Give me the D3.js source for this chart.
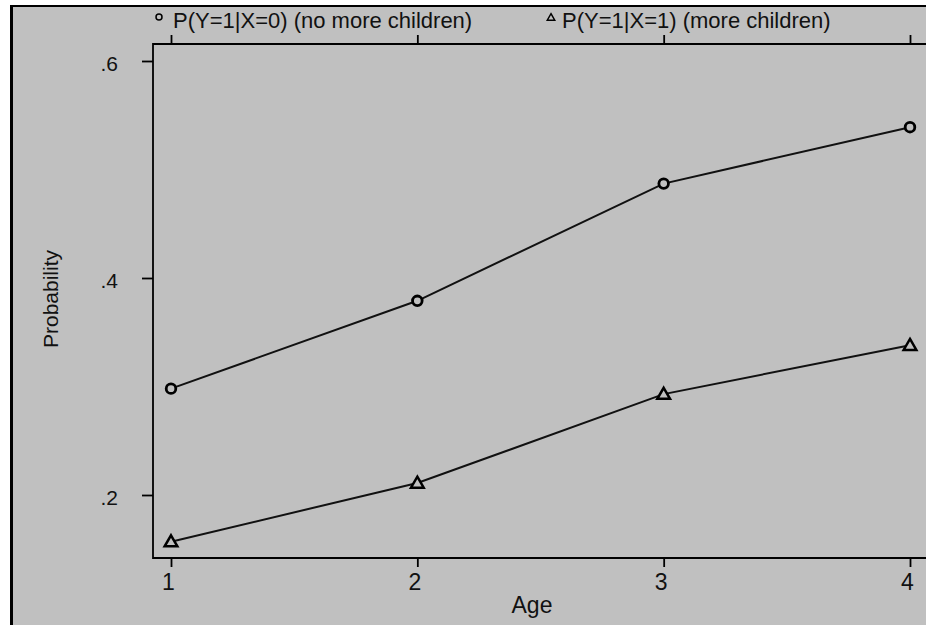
<!DOCTYPE html>
<html lang="en">
<head>
<meta charset="utf-8">
<title>Probability by age</title>
<script src="https://cdnjs.cloudflare.com/ajax/libs/d3/7.8.5/d3.min.js"></script>
<style>
  body { margin: 0; background: #fff; }
  svg { display: block; font-family: "Liberation Sans", Arial, sans-serif; }
</style>
</head>
<body>
<div id="chart"></div>
<script>
// data
var ages = [1, 2, 3, 4];
var noMore = [0.298, 0.379, 0.487, 0.539];   // P(Y=1|X=0)
var more = [0.157, 0.211, 0.293, 0.338];     // P(Y=1|X=1)
var yTicks = [0.2, 0.4, 0.6];
var seriesLabels = ["P(Y=1|X=0) (no more children)", "P(Y=1|X=1) (more children)"];

var width = 926, height = 625;
var plotLeft = 153, plotTop = 44, plotBottom = 558;

var svg = d3.select("#chart").append("svg")
    .attr("width", width)
    .attr("height", height);

// gray page with black edge on top and left
svg.append("rect")
    .attr("x", 11).attr("y", 6)
    .attr("width", width - 11).attr("height", height - 6)
    .style("fill", "#c0c0c0");
svg.append("line")
    .attr("x1", 10).attr("x2", width).attr("y1", 6).attr("y2", 6)
    .style("stroke", "#000").style("stroke-width", 2);
svg.append("line")
    .attr("x1", 11.5).attr("x2", 11.5).attr("y1", 5).attr("y2", height)
    .style("stroke", "#000").style("stroke-width", 3);

var x = d3.scaleLinear()
    .domain([1, 4])
    .range([171, 910]);
var y = d3.scaleLinear()
    .domain([0.2, 0.6])
    .range([495, 61]);

// plot frame (open on the right)
svg.append("path")
    .attr("d", "M" + width + "," + plotTop + "H" + plotLeft + "V" + plotBottom + "H" + width)
    .style("fill", "none").style("stroke", "#000").style("stroke-width", 1.8);

// y axis
var yAxis = d3.axisLeft(y)
    .tickValues(yTicks)
    .tickSize(11)
    .tickPadding(24)
    .tickFormat(function(d) { return d3.format(".1f")(d).replace(/^0/, ""); });
var gy = svg.append("g")
    .attr("transform", "translate(" + plotLeft + ",0)")
    .call(yAxis);
gy.select(".domain").remove();
gy.selectAll(".tick text").style("font-size", "21px").attr("dy", "0.45em");

// x axis bottom
var xAxis = d3.axisBottom(x)
    .tickValues(ages)
    .tickSize(9)
    .tickPadding(7)
    .tickFormat(d3.format("d"));
var gx = svg.append("g")
    .attr("transform", "translate(0," + plotBottom + ")")
    .call(xAxis);
gx.select(".domain").remove();
gx.selectAll(".tick text").style("font-size", "23px").attr("dx", "-3");

// x axis top, ticks only
var gt = svg.append("g")
    .attr("transform", "translate(0," + plotTop + ")")
    .call(d3.axisTop(x).tickValues(ages).tickSize(9).tickFormat(""));
gt.select(".domain").remove();

svg.selectAll(".tick line").style("stroke", "#000").style("stroke-width", 1.8);
svg.selectAll(".tick text")
    .style("font-family", "Liberation Sans, Arial, sans-serif")
    .style("fill", "#111");

// axis titles
svg.append("text")
    .attr("x", 532).attr("y", 613)
    .attr("text-anchor", "middle")
    .style("font-size", "23px")
    .style("fill", "#111")
    .text("Age");
svg.append("text")
    .attr("transform", "translate(58,299) rotate(-90)")
    .attr("text-anchor", "middle")
    .style("font-size", "21px")
    .style("fill", "#111")
    .text("Probability");

// lines
var line = d3.line()
    .x(function(d, i) { return x(ages[i]); })
    .y(function(d) { return y(d); });

[noMore, more].forEach(function(s) {
    svg.append("path")
        .datum(s)
        .attr("d", line)
        .style("fill", "none")
        .style("stroke", "#111")
        .style("stroke-width", 2);
});

// markers
svg.selectAll("circle.pt")
    .data(noMore)
    .enter().append("circle")
    .attr("class", "pt")
    .attr("cx", function(d, i) { return x(ages[i]); })
    .attr("cy", function(d) { return y(d); })
    .attr("r", 4.8)
    .style("fill", "#c0c0c0")
    .style("stroke", "#000")
    .style("stroke-width", 2.8);

var tri = d3.symbol().type(d3.symbolTriangle).size(70);
svg.selectAll("path.tri")
    .data(more)
    .enter().append("path")
    .attr("class", "tri")
    .attr("transform", function(d, i) { return "translate(" + x(ages[i]) + "," + (y(d) + 1) + ")"; })
    .attr("d", tri)
    .style("fill", "#c0c0c0")
    .style("stroke", "#000")
    .style("stroke-width", 2.5);

// legend
svg.append("circle")
    .attr("cx", 159).attr("cy", 17).attr("r", 3)
    .style("fill", "none").style("stroke", "#000").style("stroke-width", 1.5);
svg.append("path")
    .attr("transform", "translate(551,18)")
    .attr("d", d3.symbol().type(d3.symbolTriangle).size(24))
    .style("fill", "none").style("stroke", "#000").style("stroke-width", 1.5);

svg.append("text")
    .attr("x", 173).attr("y", 28)
    .style("font-size", "22px")
    .style("fill", "#111")
    .text(seriesLabels[0]);
svg.append("text")
    .attr("x", 562).attr("y", 28)
    .style("font-size", "22px")
    .style("fill", "#111")
    .text(seriesLabels[1]);
</script>
</body>
</html>
